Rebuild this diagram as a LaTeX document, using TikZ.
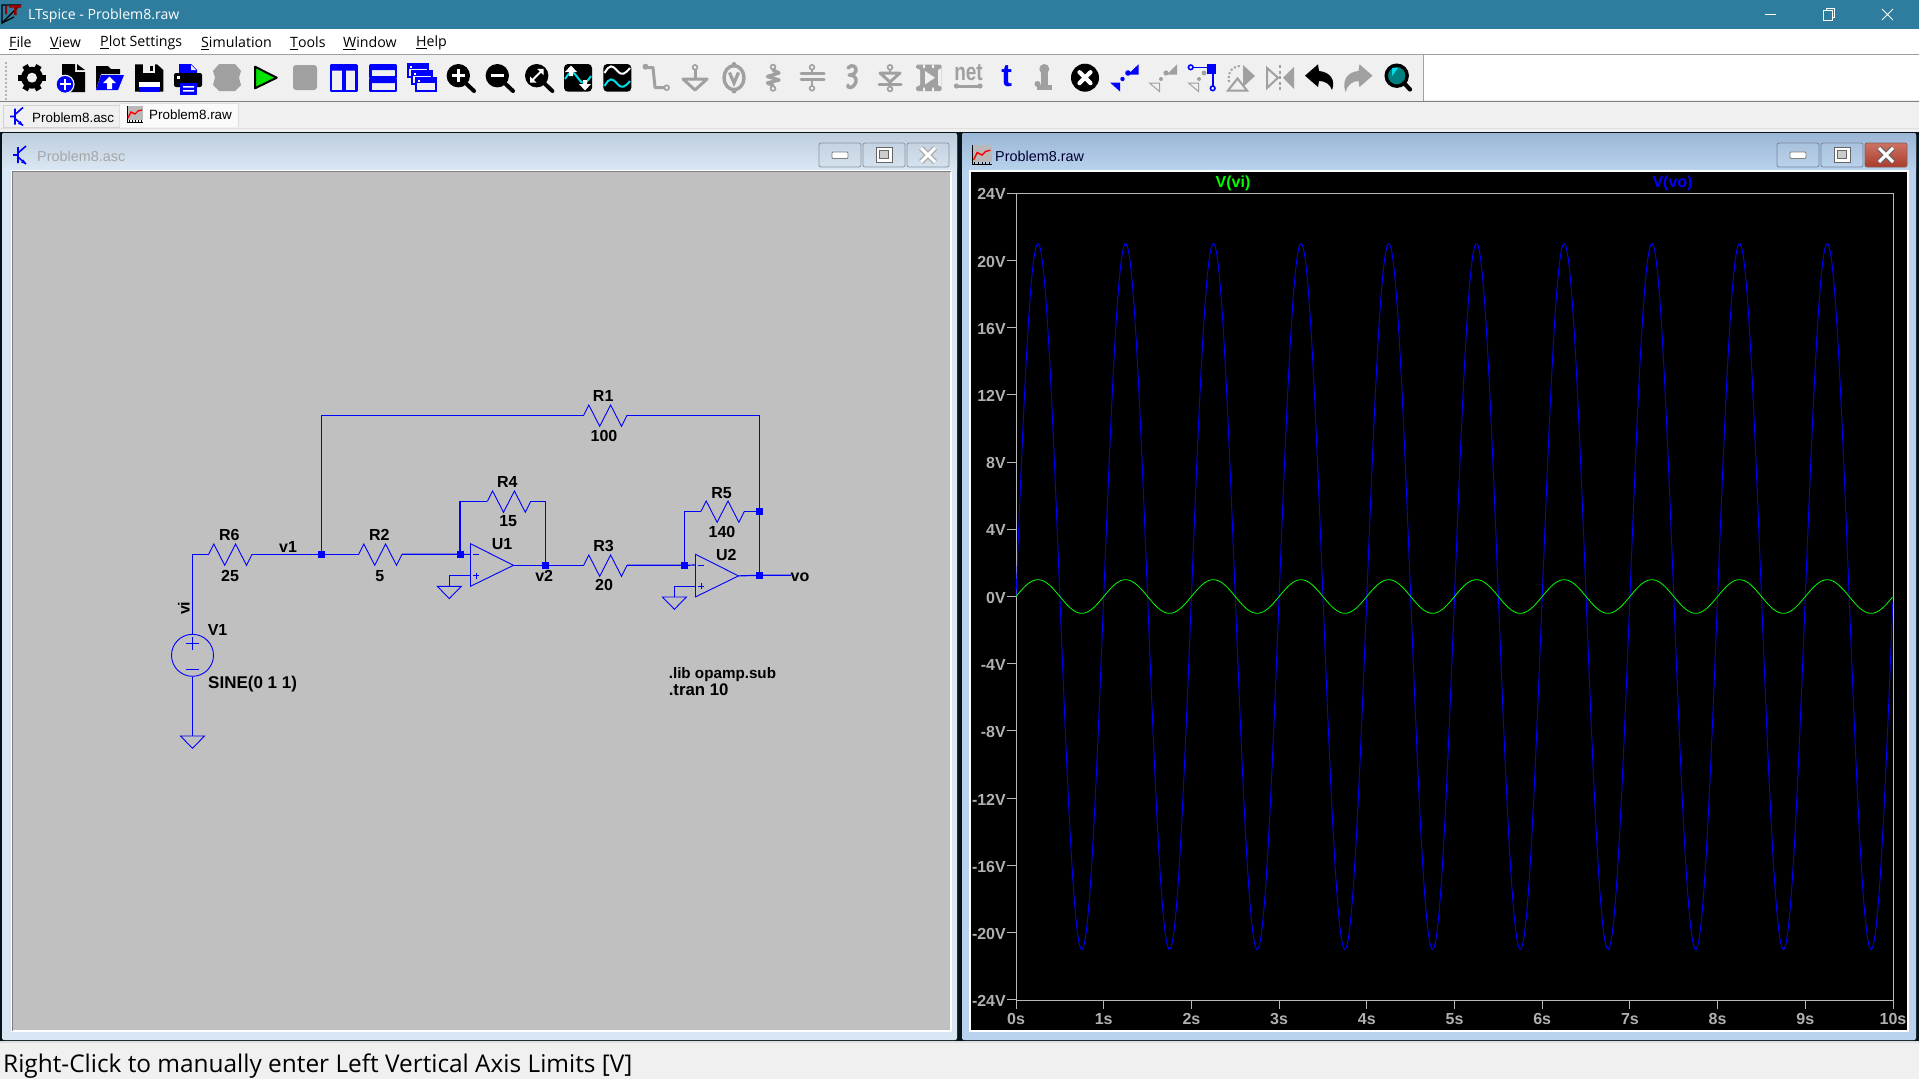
\documentclass[tikz,border=0pt]{standalone}
\usepackage{fontspec}
\setmainfont{Liberation Sans}
\newfontfamily\uifont{Open Sans}
\usetikzlibrary{calc}
\definecolor{titlec}{HTML}{2E7D9E}
\definecolor{panel}{HTML}{F0F0F0}
\definecolor{tbgrey}{HTML}{A0A0A0}
\definecolor{wireb}{HTML}{0000FF}
\definecolor{axisg}{HTML}{B8B8B8}
\definecolor{labg}{HTML}{B0B0B0}
\definecolor{schbg}{HTML}{C0C0C0}
\definecolor{cyanw}{HTML}{00E0E8}
\definecolor{frL}{HTML}{D9E6F3}
\definecolor{frR}{HTML}{B9D3EE}
\definecolor{btnLt}{HTML}{C6D3E2}
\definecolor{btnLb}{HTML}{D4E1EE}
\definecolor{btnRt}{HTML}{A9C2DD}
\definecolor{btnRb}{HTML}{BAD2EC}
\definecolor{closeb}{HTML}{8A5A50}
\definecolor{shLt}{HTML}{BECEDE}
\definecolor{shLb}{HTML}{DBE8F5}
\definecolor{shRt}{HTML}{9BB7D5}
\definecolor{shRb}{HTML}{B9D3EE}
\definecolor{clT}{HTML}{CD7364}
\definecolor{clB}{HTML}{AA3C2D}
\newcommand\fsz[1]{\fontsize{#1}{#1}\selectfont}
\tikzset{
 x=1pt,y=-1pt,
 wire/.style={draw=wireb,line width=1.2pt},
 sym/.style={draw=wireb,line width=0.9pt,line join=miter},
 junction/.style={fill=wireb,draw=none,minimum size=7pt,inner sep=0pt,rectangle},
 source/.style={draw=wireb,line width=0.9pt,circle,minimum size=42pt,inner sep=0pt},
 schtxt/.style={font=\bfseries\fsz{16},inner sep=0pt,text=black,yshift=-0.6pt},
 axtxt/.style={font=\bfseries\fsz{16},inner sep=0pt,text=labg,yshift=-1.2pt},
 menutxt/.style={font=\uifont\fsz{14.2},inner sep=0pt,anchor=west,text=black,yshift=-1pt},
 tabtxt/.style={font=\fsz{13.4},inner sep=0pt,anchor=west,text=black,yshift=-.8pt},
 wintxt/.style={font=\fsz{14.4},inner sep=0pt,anchor=west},
 ik/.style={fill=black,draw=none},
 ib/.style={fill=wireb,draw=none},
 ig/.style={fill=tbgrey,draw=none},
 ilg/.style={draw=tbgrey,line width=3pt,line cap=round,line join=round},
 ilk/.style={draw=black,line width=3pt,line cap=round,line join=round},
 ilb/.style={draw=wireb,line width=2.4pt,line join=round},
}
\newcommand\res[3]{%
 \path (#2,#3) coordinate (#1-l) ++(43.4,0) coordinate (#1-r);
 \draw[sym] (#1-l) -- ++(5.2,-10.3) -- ++(10.9,21.3) -- ++(10.9,-21.3) -- ++(10.9,21.3) -- (#1-r);}
\newcommand\gnd[3]{%
 \coordinate (#1) at (#2,#3);
 \draw[sym] (#1) ++(-12,0) -- ++(24,0) -- ++(-12,12.3) -- cycle;}
\newcommand\opamp[3]{%
 \path (#2,#3) ++(0,10.7) coordinate (#1-m) ++(0,21.3) coordinate (#1-p)
   (#2,#3) ++(43,21.6) coordinate (#1-o);
 \draw[sym] (#2,#3) -- (#1-o) -- ++(-43,21) -- cycle;
 \draw[sym,line width=.8pt] (#1-m) ++(2.5,0) -- ++(6,0);
 \draw[sym,line width=.8pt] (#1-p) ++(2.5,0) -- ++(6,0) (#1-p) ++(5.5,-3) -- ++(0,6);}
\newcommand\winbtn[4]{% x1,x2,fill top,fill bottom
 \draw[draw=#3!70!black,top color=#3,bottom color=#4,rounded corners=2pt,line width=.8pt] (#1,143) rectangle (#2,167);}
\newcommand\transicon[3]{% x,y,colour: BJT glyph
 \begin{scope}[shift={(#1,#2)}]
 \draw[draw=#3,line width=1.6pt] (-3,-8) -- (-3,8) (-3,-2) -- (5,-9) (-3,2) -- (5,9) (-8,0) -- (-3,0);
 \fill[#3] (5,9) -- (0,7.5) -- (2.5,4.5) -- cycle;
 \end{scope}}
\newcommand\ploticon[3]{% x,y,size
 \begin{scope}[shift={(#1,#2)},scale=#3]
 \fill[gray!55] (-8,-8) rectangle (8,6);
 \draw[black,line width=1pt] (-8,-8) -- (-8,8) -- (8,8);
 \foreach \q in {-6,-3,0,3,6}{\draw[black,line width=.8pt] (\q,6) -- (\q,8);}
 \draw[red,line width=1.4pt] (-7,4) -- (-4,-2) -- (0,0) -- (3,-3) -- (7,-4);
 \end{scope}}
\begin{document}
\begin{tikzpicture}
\useasboundingbox (0,0) rectangle (1919,1079);
% ---- chrome
\fill[panel] (0,0) rectangle (1919,1079);
\fill[titlec] (0,0) rectangle (1919,29);
\fill[white] (0,29) rectangle (1919,53.5);
\draw[tbgrey,line width=1pt] (0,54) -- (1919,54);
\fill[white] (1424,55) rectangle (1919,100);
\draw[tbgrey,line width=1pt] (1423.5,55) -- (1423.5,101);
\draw[gray,line width=1.5pt] (0,101.5) -- (1919,101.5);
\foreach \q in {62,66,...,98}{\fill[gray!60] (5,\q) rectangle (6.5,\q+1.5);}
% title bar
\draw[black,line width=1.2pt] (2,23) -- (2,5) -- (20,5) -- cycle;
\draw[black,line width=1.2pt] (2,23) -- (14,17);
\fill[red!60!black] (9,5) rectangle (21,7.5) (14,5) rectangle (16.5,15) (5,6) rectangle (7,14);
\node[menutxt,text=white,font=\uifont\fsz{14.1}] (apptitle) at (28,15) {LTspice - Problem8.raw};
\draw[white,line width=1pt] (1765,14) -- (1776,14);
\draw[white,line width=1pt] (1823.5,10) rectangle (1832,20);
\draw[white,line width=1pt] (1826,10) -- (1826,8) -- (1834,8) -- (1834,17) -- (1832,17);
\draw[white,line width=1pt] (1882,9) -- (1893,20) (1893,9) -- (1882,20);
% menu
\node[menutxt] (mFile) at (9,42) {\underline{F}ile};
\node[menutxt] (mView) at (50,42) {\underline{V}iew};
\node[menutxt] (mPlot) at (100,42) {\underline{P}lot Settings};
\node[menutxt] (mSim) at (201,42) {\underline{S}imulation};
\node[menutxt] (mTools) at (290,42) {\underline{T}ools};
\node[menutxt] (mWin) at (343,42) {\underline{W}indow};
\node[menutxt] (mHelp) at (416,42) {\underline{H}elp};
% tabs
\draw[gray!35,fill=panel,line width=.8pt] (3,105) rectangle (119,127);
\fill[white!70!panel] (119,103.5) rectangle (238.5,127);
\draw[gray!25,line width=.8pt] (119,127) -- (119,103.5) -- (238.5,103.5) -- (238.5,127);
\draw[gray!25,line width=1pt] (0,128) -- (1919,128);
\transicon{18}{116.5}{wireb}
\ploticon{135}{114}{1}
\node[tabtxt] (tab1) at (32,116.5) {Problem8.asc};
\node[tabtxt] (tab2) at (149,114) {Problem8.raw};
% ---- MDI area
\fill[black!85!titlec] (0,132) rectangle (1919,1041);
\draw[gray!25,line width=1.4pt] (0,1042) -- (1919,1042);
% left child
\fill[frL,rounded corners=2pt] (2,133) rectangle (957,1040);
\shade[top color=shLt,bottom color=shLb,rounded corners=2pt] (2,133) rectangle (957,171);
\draw[white,fill=schbg,line width=1.4pt] (12,171) rectangle (951,1031);
\draw[gray,line width=1pt] (12,1031) -- (12,171) -- (951,171);
\transicon{21}{155}{wireb}
\node[wintxt,text=gray!70] (wtitleL) at (37,156) {Problem8.asc};
\winbtn{819}{861}{btnLt}{btnLb}
\winbtn{863}{905}{btnLt}{btnLb}
\winbtn{907}{949}{btnLt}{btnLb}
% right child
\fill[frR,rounded corners=2pt] (962,133) rectangle (1916,1040);
\shade[top color=shRt,bottom color=shRb,rounded corners=2pt] (962,133) rectangle (1916,171);
\draw[white,fill=black,line width=1.4pt] (970,171) rectangle (1908,1031);
\ploticon{982}{155}{1.2}
\node[wintxt,text=black!80!blue] (wtitleR) at (995,156) {Problem8.raw};
\winbtn{1777}{1819}{btnRt}{btnRb}
\winbtn{1821}{1863}{btnRt}{btnRb}
\draw[draw=closeb,top color=clT,bottom color=clB,rounded corners=2pt,line width=.8pt] (1865,143) rectangle (1907,167);
% window buttons glyphs
\foreach \c in {840,1798}{\draw[draw=gray,fill=white,line width=.8pt,rounded corners=1pt] (\c-8,152) rectangle (\c+8,158.5);}
\foreach \c in {884,1842}{\draw[draw=gray!80!black,fill=white,line width=.8pt] (\c-8,147) rectangle (\c+8,162);\draw[draw=gray!80!black,fill=gray!40,line width=.8pt] (\c-4.5,150.5) rectangle (\c+4.5,158.5);}
\foreach \c/\k in {928/gray!70,1886/black!60}{\draw[\k,line width=5.5pt] (\c-7,148) -- (\c+7,162) (\c+7,148) -- (\c-7,162);\draw[white,line width=3pt] (\c-7,148) -- (\c+7,162) (\c+7,148) -- (\c-7,162);}
% ---- toolbar icons
% gear
\foreach \a in {0,60,...,300}{\draw[black,line width=6pt] (32,77.7) -- ++(\a:14);}
\fill[black] (32,77.7) circle[radius=11];
\fill[panel] (32,77.7) circle[radius=5];
% new
\fill[ik] (62,64) -- (75,64) -- (75,72) -- (85,72) -- (85,92) -- (62,92) -- cycle;
\fill[ik] (77,64) -- (85,70) -- (77,70) -- cycle;
\fill[wireb,draw=panel,line width=1.2pt] (65,84.3) circle[radius=9];
\draw[white,line width=2.2pt] (59.5,84.3) -- (70.5,84.3) (65,78.8) -- (65,89.8);
% open
\fill[ik] (96,90) -- (96,66) -- (108,66) -- (111,69) -- (120,69) -- (120,74) -- (101,74) -- cycle;
\fill[ib] (101,75) -- (124,75) -- (118,90) -- (96,90) -- cycle;
\fill[white] (109.5,76.5) -- (116,83) -- (112,83) -- (112,89) -- (107,89) -- (107,83) -- (103,83) -- cycle;
% save
\fill[ik] (135,64.3) -- (157,64.3) -- (163.3,70) -- (163.3,91.7) -- (135,91.7) -- cycle;
\fill[panel] (143,64.3) rectangle (155,73);
\fill[black] (150,66) rectangle (153,71);
\fill[white] (138.5,81.7) rectangle (160,86.7);
\fill[ib] (138.5,86.7) rectangle (160,91.7);
% print
\fill[ib] (179,64) -- (191,64) -- (197,70) -- (197,74) -- (179,74) -- cycle;
\fill[panel] (191,65) -- (191,70) -- (196,70) -- cycle;
\fill[ik,rounded corners=2pt] (174,73) rectangle (202,87);
\fill[white] (177,76) rectangle (180,79);
\fill[ib] (180,83) rectangle (197,95);
\fill[white] (183,86) rectangle (194,87.5) (183,90) rectangle (194,91.5);
% halt
\fill[ig] (219,64) -- (235,64) -- (241,71) -- (239,77.7) -- (241,85) -- (235,91) -- (219,91) -- (213,85) -- (215,77.7) -- (213,71) -- cycle;
% run
\draw[black,fill=green!90!black,line width=2pt,line join=round] (255,66.7) -- (276.7,77.7) -- (255,88.3) -- cycle;
% stop
\fill[ig,rounded corners=3pt] (293,65) rectangle (317,90);
% tile vertical
\draw[ilb] (331,65.5) rectangle (343.5,91) (344.5,65.5) rectangle (356.5,91);
\fill[ib] (331,65.5) rectangle (343.5,70.5) (344.5,65.5) rectangle (356.5,70.5);
% tile horizontal
\draw[ilb] (370.5,65.5) rectangle (396,77.5) (370.5,79) rectangle (396,91);
\fill[ib] (370.5,65.5) rectangle (396,70) (370.5,79) rectangle (396,83);
% cascade
\foreach \xa/\ya in {408/64,412/71,416/78}{\draw[draw=wireb,fill=panel,line width=2pt] (\xa,\ya) rectangle ++(20,13);\fill[ib] (\xa,\ya) rectangle ++(20,5);\fill[white] (\xa+2,\ya+1.5) rectangle ++(2,2);}
% zoom in / out / fit
\foreach \c in {458.3,497.3,536.7}{\fill[black] (\c,75.7) circle[radius=11.7];\draw[ilk,line width=4pt] (\c+8,83.7) -- (\c+15.7,91);}
\draw[white,line width=3pt] (451.5,75.7) -- (465,75.7) (458.3,69) -- (458.3,82.4);
\draw[white,line width=3pt] (490.5,75.7) -- (504,75.7);
\draw[white,line width=2pt] (532,80.5) -- (541.5,71);
\fill[white] (543.5,68.8) -- (543.5,75) -- (537,68.8) -- cycle (530,82.6) -- (530,76.5) -- (536.5,82.6) -- cycle;
% autoscale
\fill[ik,rounded corners=4pt] (564,64) rectangle (592,91.7);
\draw[cyanw,line width=2pt] (565,79) .. controls (571,70) and (572,70) .. (578,78) .. controls (583,85) and (585,85) .. (591,76);
\fill[white] (571,65.5) -- (577,72) -- (573,72) -- (573,76) -- (569,76) -- (569,72) -- (565,72) -- cycle;
\fill[white] (585,90.5) -- (591,84) -- (587,84) -- (587,80) -- (583,80) -- (583,84) -- (579,84) -- cycle;
% waves
\fill[ik,rounded corners=4pt] (603.3,64) rectangle (631.3,91.7);
\draw[white,line width=2pt] (604.5,73) .. controls (610,64) and (612,65) .. (617.5,71) .. controls (622,76) and (625,74) .. (630,68);
\draw[cyanw,line width=2pt] (604.5,86) .. controls (610,77) and (612,78) .. (617.5,84) .. controls (622,89) and (625,87) .. (630,81);
% wire
\draw[ilg] (648,67.5) -- (653,67.5) -- (655,87.5) -- (664,87.5);
\fill[tbgrey] (645.5,66.7) circle[radius=3];
\draw[tbgrey,line width=1.6pt,fill=panel] (666.7,87.7) circle[radius=2.4];
% ground
\draw[tbgrey,line width=1.6pt,fill=panel] (695,67.3) circle[radius=2.4];
\draw[ilg] (695,70) -- (695,78.3);
\draw[ilg,fill=panel] (683,79) -- (707,79) -- (695,90) -- cycle;
% voltage label
\draw[tbgrey,line width=3.4pt] (734,77.7) ellipse[x radius=10,y radius=12];
\draw[tbgrey,line width=3.2pt] (729.5,72.5) -- (734,83) -- (738.5,72.5);
\fill[tbgrey] (734,64.5) circle[radius=2.5] (734,91) circle[radius=2.5];
% resistor
\draw[tbgrey,line width=1.6pt] (773,67) circle[radius=2.4] (773,88.5) circle[radius=2.4];
\draw[ilg,line width=3.4pt] (773,70) -- (779,73) -- (767.5,76.5) -- (779,80) -- (767.5,83) -- (773,85.5);
% capacitor
\draw[tbgrey,line width=1.6pt] (812,67.3) circle[radius=2.4] (812,88.3) circle[radius=2.4];
\draw[ilg,line width=2.6pt] (812,70) -- (812,73) (812,80) -- (812,85.5);
\draw[ilg] (801,73.5) -- (824,73.5) (801,79.5) -- (824,79.5);
% inductor
\draw[ilg,line width=3.4pt] (848,68) .. controls (852,63) and (857,67) .. (856,71) .. controls (855,75) and (849,75) .. (849,75) .. controls (857,75) and (857,81) .. (855,84) .. controls (853,89) and (846,88) .. (848,85);
% diode
\draw[tbgrey,line width=1.6pt] (890,67.3) circle[radius=2.4] (890,89) circle[radius=2.4];
\fill[tbgrey] (889,69) rectangle (891,72) (889,84) rectangle (891,87);
\draw[ilg,fill=panel] (880,73) -- (900,73) -- (890,82) -- cycle;
\draw[ilg] (879,84) -- (901,84);
% component
\fill[ig,rounded corners=1.5pt] (916,64.5) rectangle (941.7,91);
\fill[panel] (916,68) -- (920,70) -- (920,85) -- (916,87) -- cycle (941.7,68) -- (938,70) -- (938,85) -- (941.7,87) -- cycle (923,64.5) rectangle (925,68) (932,64.5) rectangle (934,68) (923,87.5) rectangle (925,91) (932,87.5) rectangle (934,91);
\fill[panel] (925,71) -- (935,77.7) -- (925,84.5) -- cycle;
% net
\node[inner sep=0pt,text=tbgrey,font=\bfseries\fsz{19}] (inet) at (968.5,72.5) {\scalebox{1}[1.3]{net}};
\draw[ilg] (957,86) -- (979.5,86);
\fill[tbgrey] (956.5,86) circle[radius=2.6] (980,86) circle[radius=2.6];
% t
\node[inner sep=0pt,text=wireb,font=\bfseries\fsz{32}] (it) at (1006.7,76) {t};
% spice-directive glyph
\fill[ig] (1044.3,69) circle[radius=5];
\fill[ig] (1041,70) rectangle (1048,86);
\fill[ig] (1037,85) rectangle (1052,90);
\fill[ig] (1037.5,84) circle[radius=3];
% delete
\fill[black] (1085,77.7) circle[radius=14];
\draw[white,line width=4.2pt,line cap=round] (1079.5,72.2) -- (1090.5,83.2) (1090.5,72.2) -- (1079.5,83.2);
% move
\fill[ib] (1128,74.5) -- (1138.5,64.3) -- (1138.5,74.5) -- cycle;
\fill[ib] (1110,82.5) -- (1120,82.5) -- (1120,91.5) -- cycle;
\fill[ib] (1128,73) circle[radius=2.8] (1122.5,79) circle[radius=2.2];
% drag
\fill[ig] (1167,74.5) -- (1177,64.3) -- (1177,74.5) -- cycle;
\fill[ig] (1166,73) circle[radius=2.6] (1161,79) circle[radius=2];
\draw[tbgrey,line width=1pt] (1149.5,83) -- (1159.5,83) -- (1159.5,91.5) -- cycle;
% wire-drag
\draw[wireb,line width=1.6pt] (1190.7,67.3) -- (1213,67.3) -- (1213,86);
\draw[wireb,line width=1.6pt,fill=panel] (1190.7,67.3) circle[radius=2.3] (1212.7,88.3) circle[radius=2.3];
\fill[ib] (1207,64.3) rectangle (1216,74);
\fill[ig] (1204,73) circle[radius=2.4] (1199,79) circle[radius=2];
\draw[tbgrey,line width=1pt] (1188.5,83) -- (1198.5,83) -- (1198.5,91.5) -- cycle;
% rotate
\fill[ig] (1243,65) -- (1255,76) -- (1243,87) -- cycle;
\draw[tbgrey,line width=2pt] (1228,90.5) -- (1247,90.5) -- (1237.5,78.5) -- cycle;
\draw[tbgrey,line width=2pt,dash pattern=on 2pt off 2pt] (1229,82) .. controls (1227,72) and (1233,66) .. (1241,66);
% mirror
\draw[tbgrey,line width=2pt] (1267,68) -- (1278,77.7) -- (1267,88) -- cycle;
\fill[ig] (1294,67) -- (1283,77.7) -- (1294,89) -- cycle;
\draw[tbgrey,line width=2.4pt,dash pattern=on 3pt off 2.5pt] (1280,65) -- (1280,91);
% undo / redo
\fill[ik] (1305,75.7) -- (1318,64.3) -- (1319,71) .. controls (1330,72) and (1336,80) .. (1332,90) .. controls (1330,84) and (1325,81) .. (1319,81) -- (1318,87) -- cycle;
\fill[ig] (1372.5,75.7) -- (1359.5,64.3) -- (1358.5,71) .. controls (1347.5,72) and (1341.5,80) .. (1345.5,92) .. controls (1347.5,85) and (1352.5,81) .. (1358.5,81) -- (1359.5,87) -- cycle;
% find
\draw[black,fill=teal,line width=3.4pt] (1396.7,75.7) circle[radius=10.5];
\fill[cyanw] (1392,68) -- (1398,68) -- (1392,76) -- cycle;
\draw[black,line width=4.2pt,line cap=round] (1404,83) -- (1410,89.5);
% ---- schematic
\res{R1}{583.6}{415.3}
\res{R6}{208.6}{554.3}
\res{R2}{358.6}{554.3}
\res{R4}{487.4}{501.3}
\res{R3}{583.6}{565.3}
\res{R5}{701}{511.3}
\opamp{U1}{470.5}{543.7}
\opamp{U2}{695.5}{554.3}
\gnd{G1}{192.5}{736}
\gnd{G2}{449.3}{586.3}
\gnd{G3}{674.4}{597}
\node[source] (V1s) at (192.5,655.3) {};
\draw[sym,line width=.8pt] (186,643.7) -- (199,643.7) (192.5,637.2) -- (192.5,650.2);
\draw[sym,line width=.8pt] (186,669) -- (199,669);
\node[junction] (j1) at (321.3,554.3) {};
\node[junction] (j2) at (460,554.3) {};
\node[junction] (j3) at (545.2,565.3) {};
\node[junction] (j4) at (684.2,565.3) {};
\node[junction] (j5) at (759.3,575.3) {};
\node[junction] (j6) at (759.3,511.3) {};
\coordinate (voend) at (791,575.3);
\draw[wire] (V1s.north) |- (R6-l);
\draw[wire] (V1s.south) -- (G1);
\draw[wire] (R6-r) -- (j1.center) -- (R2-l);
\draw[wire] (j1.center) |- (R1-l);
\draw[wire] (R1-r) -| (j6.center) -- (j5.center);
\draw[wire] (R2-r) -- (j2.center) -- (U1-m);
\draw[wire] (j2.center) |- (R4-l);
\draw[wire] (R4-r) -| (j3.center);
\draw[wire] (U1-o) -- (j3.center) -- (R3-l);
\draw[wire] (R3-r) -- (j4.center) -- (U2-m);
\draw[wire] (j4.center) |- (R5-l);
\draw[wire] (R5-r) -- (j6.center);
\draw[wire] (U2-o) -- (j5.center) -- (voend);
\draw[wire] (U1-p) -| (G2);
\draw[wire] (U2-p) -| (G3);
\node[schtxt] (tR1) at (603.2,395.7) {R1};
\node[schtxt] (t100) at (604,435.7) {100};
\node[schtxt] (tR6) at (229.4,534.7) {R6};
\node[schtxt] (t25) at (230,575) {25};
\node[schtxt] (tv1) at (288,546) {v1};
\node[schtxt] (tR2) at (379.4,534.7) {R2};
\node[schtxt] (t5) at (379.8,575) {5};
\node[schtxt] (tR4) at (507.3,481.7) {R4};
\node[schtxt] (t15) at (508.2,520.7) {15};
\node[schtxt] (tU1) at (502,543.7) {U1};
\node[schtxt] (tv2) at (544.2,575) {v2};
\node[schtxt] (tR3) at (603.6,545.7) {R3};
\node[schtxt] (t20) at (604,584.3) {20};
\node[schtxt] (tR5) at (721.6,492.7) {R5};
\node[schtxt] (t140) at (722,531.7) {140};
\node[schtxt] (tU2) at (726.3,554.7) {U2};
\node[schtxt] (tvo) at (800,576.7) {vo};
\node[schtxt,rotate=90,xshift=0.6pt] (tvi) at (183.8,608.3) {vi};
\node[schtxt] (tV1) at (217.6,629.7) {V1};
\node[schtxt,anchor=west,font=\bfseries\fsz{17}] (tsine) at (208,683.7) {SINE(0 1 1)};
\node[schtxt,anchor=west,font=\bfseries\fsz{15.2}] (tlib) at (668.6,673.7) {.lib opamp.sub};
\node[schtxt,anchor=west,font=\bfseries\fsz{16.8}] (ttran) at (668.6,689.2) {.tran 10};
% ---- plot
\draw[axisg,line width=1pt] (1016,193) rectangle (1893,1000);
\foreach \v in {24,20,...,-24}{
 \pgfmathsetmacro\yy{596.5-16.81*\v}
 \draw[axisg,line width=1pt] (1007,\yy) -- (1016,\yy);
 \node[axtxt,anchor=east] (yl\v) at (1006,\yy) {\v V};
}
\foreach \t in {0,...,10}{
 \pgfmathsetmacro\xx{1016+87.7*\t}
 \draw[axisg,line width=1pt] (\xx,1000) -- (\xx,1009);
 \node[axtxt] (xl\t) at (\xx,1018) {\t s};
}
\node[inner sep=0pt,font=\bfseries\fsz{16},text=green,yshift=-1.2pt] (lvi) at (1233,182) {V(vi)};
\node[inner sep=0pt,font=\bfseries\fsz{16},text=wireb,yshift=-1.2pt] (lvo) at (1672.5,182) {V(vo)};
\draw[wireb,line width=.9pt] plot[domain=0:10,samples=701] ({1016+87.7*\x},{596.5-353*sin(360*\x)});
\draw[green,line width=.8pt] plot[domain=0:10,samples=501] ({1016+87.7*\x},{596.5-16.81*sin(360*\x)});
% status
\node[inner sep=0pt,anchor=west,font=\uifont\fsz{24.4},text=black,yshift=-.8pt] (status) at (3,1065) {Right-Click to manually enter Left Vertical Axis Limits [V]};
\end{tikzpicture}
\end{document}
